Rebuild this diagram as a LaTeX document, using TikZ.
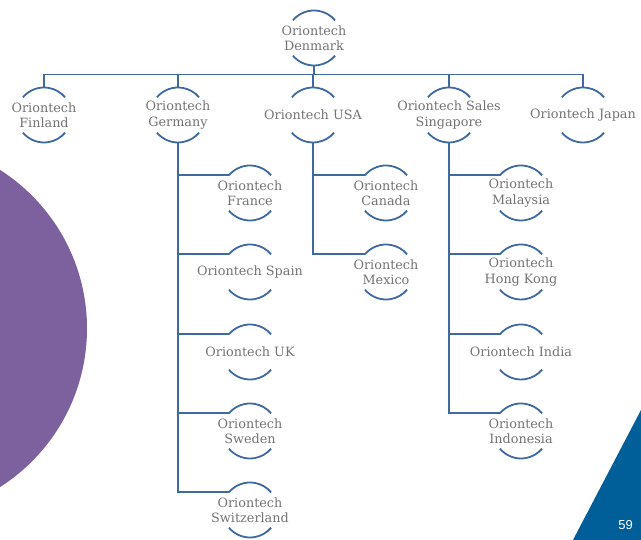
\documentclass[tikz,border=0pt]{standalone}
\usepackage{fontspec}
\setmainfont{DejaVu Serif}
\newfontfamily\numfont{Liberation Sans}
\usetikzlibrary{calc}
\definecolor{linkblue}{RGB}{62,106,160}
\definecolor{labelgray}{RGB}{115,115,115}
\definecolor{discpurple}{RGB}{125,97,158}
\definecolor{cornerblue}{RGB}{0,94,152}

\newcommand\rr{27.5}
% an organisation unit: centred label between two arcs, plus anchor points
\newcommand\orgunit[3]{%
  \node[unittext] (#1) at (#2) {#3};
  \coordinate (#1-t) at ($(#1.center)+(90:\rr)$);
  \coordinate (#1-b) at ($(#1.center)+(270:\rr)$);
  \coordinate (#1-l) at ($(#1.center)+(140:\rr)$);
  \draw[ring] (#1-l) arc[start angle=140, end angle=40, radius=\rr];
  \draw[ring] ($(#1.center)+(220:\rr)$) arc[start angle=220, end angle=320, radius=\rr];
}

\tikzset{
  unittext/.style={align=center, inner sep=0pt, text=labelgray,
    font=\fontsize{12.8}{15.5}\selectfont},
  ring/.style={draw=linkblue, line width=1.8pt},
  link/.style={draw=linkblue, line width=1.8pt},
}

\begin{document}
\begin{tikzpicture}[x=1pt,y=1pt]
\useasboundingbox (0,0) rectangle (641,540);

% background decorations
\begin{scope}
  \clip (0,0) rectangle (641,540);
  \fill[discpurple] (-101,211.5) circle[radius=188];
  \fill[cornerblue] (641,130) -- (641,0) -- (573,0) -- cycle;
\end{scope}
\node[text=white, font=\numfont\fontsize{13}{15}\selectfont] (pagenum) at (625.5,14.5) {59};

% head office
\orgunit{dk}{314,502}{Oriontech\\Denmark}

% first level
\orgunit{fi}{44,425}{Oriontech\\Finland}
\orgunit{de}{178,425}{Oriontech\\Germany}
\orgunit{us}{313,425}{Oriontech USA}
\orgunit{sg}{449,425}{Oriontech Sales\\Singapore}
\orgunit{jp}{583,425}{Oriontech Japan}

% Germany branches
\orgunit{fr}{250,347}{Oriontech\\France}
\orgunit{es}{250,268}{Oriontech Spain}
\orgunit{uk}{250,188}{Oriontech UK}
\orgunit{se}{250,109}{Oriontech\\Sweden}
\orgunit{ch}{250,30}{Oriontech\\Switzerland}

% USA branches
\orgunit{ca}{386,347}{Oriontech\\Canada}
\orgunit{mx}{386,268}{Oriontech\\Mexico}

% Singapore branches
\orgunit{my}{521,347}{Oriontech\\Malaysia}
\orgunit{hk}{521,268}{Oriontech\\Hong Kong}
\orgunit{in}{521,188}{Oriontech India}
\orgunit{id}{521,109}{Oriontech\\Indonesia}

% top bus
\coordinate (bus) at (0,465.5);
\draw[link] (dk-b) -- (dk-b |- bus);
\draw[link] (fi-t) -- (fi-t |- bus) -- (jp-t |- bus) -- (jp-t);
\foreach \n in {de,us,sg} \draw[link] (\n-t) -- (\n-t |- bus);

% branch connectors
\foreach \c in {fr,es,uk,se,ch} \draw[link] (de-b) |- (\c-l);
\foreach \c in {ca,mx} \draw[link] (us-b) |- (\c-l);
\foreach \c in {my,hk,in,id} \draw[link] (sg-b) |- (\c-l);
\end{tikzpicture}
\end{document}
